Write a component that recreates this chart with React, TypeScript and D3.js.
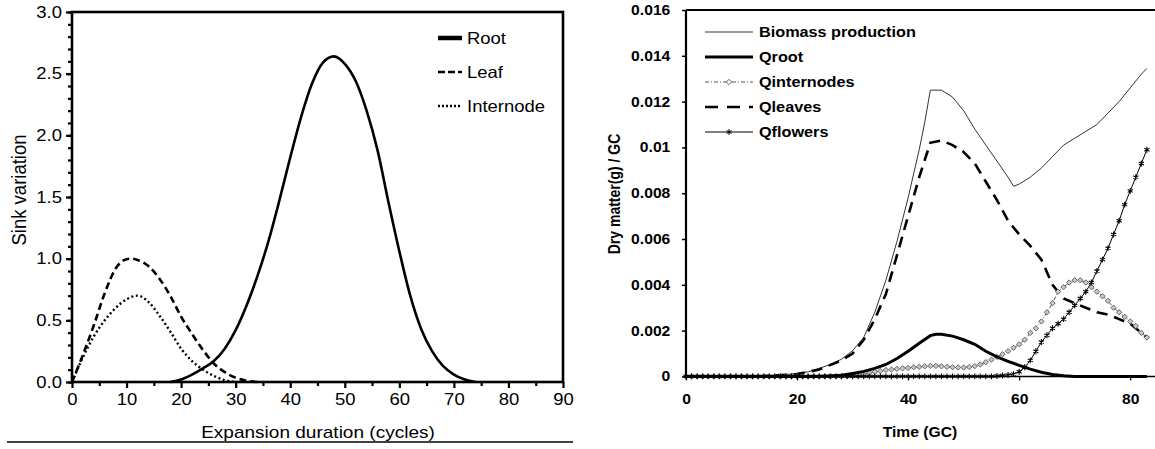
import React, { useEffect, useRef } from 'react';
import * as d3 from 'd3';

const WIDTH = 1155;
const HEIGHT = 449;
const SX = 1.12; // source picture is a bit stretched sideways
const FONT = 'Liberation Sans, Arial, Helvetica, sans-serif';

// ---- left panel: sink variation vs expansion duration ----
const rootX = [18, 20, 22, 24, 26, 28, 30, 32, 34, 36, 38, 40, 42, 44, 46, 48, 50, 52, 54, 56, 58, 60, 62, 64, 66, 68, 70, 72, 74];
const rootY = [0, 0.02, 0.06, 0.11, 0.17, 0.27, 0.42, 0.62, 0.86, 1.14, 1.47, 1.82, 2.15, 2.42, 2.59, 2.64, 2.58, 2.44, 2.2, 1.88, 1.46, 1.06, 0.7, 0.43, 0.25, 0.13, 0.06, 0.02, 0];
const leafX = [0, 2, 4, 6, 8, 10, 11, 12, 14, 16, 18, 20, 22, 24, 26, 28, 30, 32, 34];
const leafY = [0, 0.22, 0.46, 0.72, 0.92, 0.995, 1.0, 0.99, 0.94, 0.84, 0.7, 0.53, 0.39, 0.26, 0.15, 0.08, 0.035, 0.01, 0];
const internodeX = [0, 2, 4, 6, 8, 10, 12, 14, 16, 18, 20, 22, 24, 26, 28, 30];
const internodeY = [0, 0.2, 0.37, 0.5, 0.6, 0.67, 0.7, 0.65, 0.54, 0.41, 0.27, 0.17, 0.1, 0.05, 0.015, 0];

const leftYTicks = [0, 0.5, 1, 1.5, 2, 2.5, 3];
const leftXTicks = [0, 10, 20, 30, 40, 50, 60, 70, 80, 90];
const leftLegend = ['Root', 'Leaf', 'Internode'];

// ---- right panel: dry matter per GC ----
const bioT = [0, 10, 14, 18, 20, 22, 24, 26, 28, 30, 32, 34, 36, 38, 40, 42, 43, 44, 46, 48, 50, 52, 54, 56, 58, 59, 60, 62, 64, 66, 68, 70, 72, 74, 76, 78, 80, 82, 83];
const bioV = [0, 0, 0.00002, 0.00008, 0.00013, 0.0002, 0.00035, 0.00052, 0.00075, 0.00112, 0.0017, 0.0028, 0.0042, 0.0059, 0.0078, 0.0099, 0.0111, 0.0125, 0.0125, 0.0122, 0.0116, 0.0108, 0.0101, 0.0094, 0.0087, 0.0083, 0.0084, 0.0087, 0.0091, 0.0096, 0.0101, 0.0104, 0.0107, 0.011, 0.0115, 0.012, 0.0126, 0.0132, 0.01345];
const qRootT = [0, 24, 28, 30, 32, 34, 36, 38, 40, 42, 44, 45, 46, 48, 50, 52, 54, 56, 58, 60, 62, 64, 66, 68, 70, 83];
const qRootV = [0, 0, 0.00005, 0.00013, 0.00022, 0.00035, 0.00052, 0.00078, 0.0011, 0.00145, 0.00178, 0.00184, 0.00184, 0.00176, 0.0016, 0.0014, 0.0011, 0.00085, 0.00066, 0.00048, 0.00032, 0.00018, 0.00008, 0.00003, 0, 0];
const qLeavesT = [0, 14, 20, 24, 28, 30, 32, 34, 36, 38, 40, 42, 44, 46, 48, 50, 52, 54, 56, 58, 60, 62, 64, 66, 68, 70, 72, 74, 76, 78, 80, 82, 83];
const qLeavesV = [0, 0.00001, 0.0001, 0.0003, 0.0007, 0.001, 0.0016, 0.0025, 0.0036, 0.0053, 0.007, 0.0087, 0.0102, 0.0103, 0.0101, 0.0098, 0.0093, 0.0085, 0.0077, 0.0068, 0.0062, 0.0057, 0.0051, 0.004, 0.0034, 0.0032, 0.003, 0.0028, 0.0027, 0.0025, 0.0023, 0.0019, 0.0017];
// one value per GC, 0..83
const gcTime = d3.range(84);
const qInternodes = [
  0, 0, 0, 0, 0, 0, 0, 0, 0, 0, 0, 0, 0, 0, 0, 0, 0, 0, 0, 0, 0, 0, 0, 0, 0, 0, 0, 0,
  0.00001, 0.00002, 0.00004, 0.00007, 0.0001, 0.00015, 0.0002, 0.00024, 0.00028, 0.0003,
  0.00033, 0.00035, 0.00037, 0.0004, 0.00042, 0.00044, 0.00046, 0.00046, 0.00044, 0.00042,
  0.0004, 0.00039, 0.00039, 0.00041, 0.00045, 0.00052, 0.00062, 0.00073, 0.00085, 0.00097,
  0.0011, 0.00125, 0.0014, 0.0016, 0.0019, 0.0021, 0.0024, 0.0028, 0.0032, 0.0037,
  0.0039, 0.0041, 0.0042, 0.0042, 0.0041, 0.0039, 0.0037, 0.0035, 0.0033, 0.003,
  0.0028, 0.0026, 0.0024, 0.0022, 0.0019, 0.0017
];
const qFlowers = [
  0, 0, 0, 0, 0, 0, 0, 0, 0, 0, 0, 0, 0, 0, 0, 0, 0, 0, 0, 0, 0, 0, 0, 0, 0, 0, 0, 0,
  0, 0, 0, 0, 0, 0, 0, 0, 0, 0, 0, 0, 0, 0, 0, 0, 0, 0, 0, 0, 0, 0, 0, 0, 0, 0, 0, 0,
  0.00002, 0.00004, 0.00006, 0.0001, 0.0002, 0.0004, 0.0007, 0.0011, 0.0015, 0.0018,
  0.0021, 0.0023, 0.0025, 0.0028, 0.0031, 0.0034, 0.0037, 0.0041, 0.0046, 0.0051,
  0.0056, 0.0062, 0.0068, 0.0075, 0.0081, 0.0087, 0.0093, 0.0099
];

const rightYTicks = [0, 0.002, 0.004, 0.006, 0.008, 0.01, 0.012, 0.014, 0.016];
const rightXTicks = [0, 20, 40, 60, 80];
const rightLegend = ['Biomass production', 'Qroot', 'Qinternodes', 'Qleaves', 'Qflowers'];

type Sel = d3.Selection<SVGGElement, unknown, null, undefined>;

const addText = (g: Sel, x: number, y: number, txt: string, size: number,
  opts: { weight?: string; anchor?: string; rotate?: boolean } = {}) => {
  g.append('text')
    .attr('transform', `translate(${x},${y}) scale(${SX},1)${opts.rotate ? ' rotate(-90)' : ''}`)
    .attr('text-anchor', opts.anchor ?? 'start')
    .attr('font-family', FONT)
    .attr('font-size', size)
    .attr('font-weight', opts.weight ?? 'normal')
    .attr('fill', '#000')
    .text(txt);
};

const styleAxisText = (g: Sel, size: number, weight: string) => {
  g.selectAll('.tick text')
    .attr('font-family', FONT)
    .attr('font-size', size)
    .attr('font-weight', weight)
    .attr('fill', '#000')
    .attr('transform', `scale(${SX},1)`);
};

export default function App() {
  const svgRef = useRef<SVGSVGElement>(null);

  useEffect(() => {
    if (!svgRef.current) return;
    const svg = d3.select(svgRef.current);
    svg.selectAll('*').remove();

    // ================= LEFT =================
    const xL = d3.scaleLinear().domain([0, 90]).range([72, 563]);
    const yL = d3.scaleLinear().domain([0, 3]).range([382, 12]);
    const gL = svg.append('g') as Sel;

    const lineL = (xs: number[], ys: number[]) =>
      d3.line<number>().x((_, i) => xL(xs[i])).y((d) => yL(d)).curve(d3.curveMonotoneX)(ys);

    gL.append('path').attr('d', lineL(leafX, leafY)).attr('fill', 'none')
      .attr('stroke', '#000').attr('stroke-width', 2.6).attr('stroke-dasharray', '7,4');
    gL.append('path').attr('d', lineL(internodeX, internodeY)).attr('fill', 'none')
      .attr('stroke', '#000').attr('stroke-width', 2.4).attr('stroke-dasharray', '2,2.6');
    gL.append('path').attr('d', lineL(rootX, rootY)).attr('fill', 'none')
      .attr('stroke', '#000').attr('stroke-width', 2.6);

    // minor ticks
    gL.append('g').attr('transform', `translate(${xL(0)},0)`)
      .call(d3.axisLeft(yL).tickValues(d3.range(0, 3.001, 0.1)).tickSize(4).tickFormat(() => ''))
      .call((g) => g.select('.domain').remove())
      .selectAll('line').attr('stroke-width', 2.2);
    gL.append('g').attr('transform', `translate(0,${yL(0)})`)
      .call(d3.axisBottom(xL).tickValues(d3.range(5, 90, 10)).tickSize(4).tickFormat(() => ''))
      .call((g) => g.select('.domain').remove())
      .selectAll('line').attr('stroke-width', 2.2);

    const yAxL = gL.append('g').attr('transform', `translate(${xL(0)},0)`)
      .call(d3.axisLeft(yL).tickValues(leftYTicks).tickSize(6).tickSizeOuter(0).tickPadding(3)
        .tickFormat((d) => (+d).toFixed(1))) as Sel;
    yAxL.select('.domain').remove();
    yAxL.selectAll('line').attr('stroke-width', 2.2);
    styleAxisText(yAxL, 16.5, 'normal');

    const xAxL = gL.append('g').attr('transform', `translate(0,${yL(0)})`)
      .call(d3.axisBottom(xL).tickValues(leftXTicks).tickSize(6).tickSizeOuter(0).tickPadding(5)
        .tickFormat((d) => String(d))) as Sel;
    xAxL.select('.domain').remove();
    xAxL.selectAll('line').attr('stroke-width', 2.2);
    styleAxisText(xAxL, 16.5, 'normal');

    gL.append('rect')
      .attr('x', xL(0)).attr('y', yL(3))
      .attr('width', xL(90) - xL(0)).attr('height', yL(0) - yL(3))
      .attr('fill', 'none').attr('stroke', '#000').attr('stroke-width', 2.6);

    addText(gL, 26, 190, 'Sink variation', 18.5, { anchor: 'middle', rotate: true });
    addText(gL, 318, 438, 'Expansion duration (cycles)', 17, { anchor: 'middle' });
    gL.append('line').attr('x1', 7).attr('x2', 573).attr('y1', 442).attr('y2', 442)
      .attr('stroke', '#000').attr('stroke-width', 1.5);

    // legend
    const legDash = ['', '7,3', '2,2'];
    const legW = [4.5, 2.6, 2.4];
    leftLegend.forEach((name, i) => {
      const y = 38 + i * 34;
      gL.append('line').attr('x1', 438).attr('x2', 462).attr('y1', y).attr('y2', y)
        .attr('stroke', '#000').attr('stroke-width', legW[i])
        .attr('stroke-dasharray', legDash[i] || null);
      addText(gL, 467, y + 6, name, 16.5);
    });

    // ================= RIGHT =================
    const xR = d3.scaleLinear().domain([0, 85]).range([686, 1158]);
    const yR = d3.scaleLinear().domain([0, 0.016]).range([376.4, 10]);
    const gR = svg.append('g') as Sel;

    const lineR = (ts: number[], vs: number[]) =>
      d3.line<number>().x((_, i) => xR(ts[i])).y((d) => yR(d))(vs);

    gR.append('path').attr('d', lineR(bioT, bioV)).attr('fill', 'none')
      .attr('stroke', '#333').attr('stroke-width', 1);
    gR.append('path').attr('d', lineR(qLeavesT, qLeavesV)).attr('fill', 'none')
      .attr('stroke', '#000').attr('stroke-width', 2.6).attr('stroke-dasharray', '11,7');
    gR.append('path').attr('d', lineR(gcTime, qInternodes)).attr('fill', 'none')
      .attr('stroke', '#555').attr('stroke-width', 1).attr('stroke-dasharray', '4,2,1,2');
    gR.append('path').attr('d', lineR(gcTime, qFlowers)).attr('fill', 'none')
      .attr('stroke', '#000').attr('stroke-width', 1);

    const diamond = d3.symbol(d3.symbolDiamond2, 18)();
    const star = d3.symbol(d3.symbolAsterisk, 24)();

    gR.append('g').selectAll('path').data(qInternodes).join('path')
      .attr('transform', (d, i) => `translate(${xR(gcTime[i])},${yR(d)})`)
      .attr('d', diamond).attr('fill', '#c8c8c8').attr('stroke', '#666').attr('stroke-width', 1);
    gR.append('g').selectAll('path').data(qFlowers).join('path')
      .attr('transform', (d, i) => `translate(${xR(gcTime[i])},${yR(d)})`)
      .attr('d', star).attr('fill', 'none').attr('stroke', '#000').attr('stroke-width', 1.1);

    gR.append('path').attr('d', lineR(qRootT, qRootV)).attr('fill', 'none')
      .attr('stroke', '#000').attr('stroke-width', 3);

    const yAxR = gR.append('g').attr('transform', `translate(${xR(0)},0)`)
      .call(d3.axisLeft(yR).tickValues(rightYTicks).tickSize(4).tickSizeOuter(0).tickPadding(10)
        .tickFormat((d) => String(+d))) as Sel;
    yAxR.select('.domain').remove();
    yAxR.selectAll('line').attr('stroke-width', 1.5);
    styleAxisText(yAxR, 14, 'bold');

    const xAxR = gR.append('g').attr('transform', `translate(0,${yR(0)})`)
      .call(d3.axisBottom(xR).tickValues(rightXTicks).tickSize(4).tickSizeOuter(0).tickPadding(14)
        .tickFormat((d) => String(d))) as Sel;
    xAxR.select('.domain').remove();
    xAxR.selectAll('line').attr('stroke-width', 1.2);
    styleAxisText(xAxR, 14, 'bold');

    gR.append('line').attr('x1', xR(0)).attr('x2', xR(85)).attr('y1', yR(0)).attr('y2', yR(0))
      .attr('stroke', '#000').attr('stroke-width', 1.5);
    gR.append('line').attr('x1', xR(0)).attr('x2', xR(0)).attr('y1', yR(0.016)).attr('y2', yR(0))
      .attr('stroke', '#000').attr('stroke-width', 2.2);
    gR.append('line').attr('x1', xR(0)).attr('x2', xR(85)).attr('y1', yR(0.016)).attr('y2', yR(0.016))
      .attr('stroke', '#000').attr('stroke-width', 2);

    addText(gR, 620, 194, 'Dry matter(g) / GC', 14, { anchor: 'middle', rotate: true, weight: 'bold' });
    addText(gR, 920, 437, 'Time (GC)', 14, { anchor: 'middle', weight: 'bold' });

    // legend
    rightLegend.forEach((name, i) => {
      const y = 32 + i * 25;
      const ln = gR.append('line').attr('x1', 705).attr('x2', 753).attr('y1', y).attr('y2', y)
        .attr('fill', 'none');
      if (i === 0) ln.attr('stroke', '#333').attr('stroke-width', 1);
      if (i === 1) ln.attr('stroke', '#000').attr('stroke-width', 3);
      if (i === 2) ln.attr('stroke', '#555').attr('stroke-width', 1).attr('stroke-dasharray', '4,2,1,2');
      if (i === 3) ln.attr('stroke', '#000').attr('stroke-width', 2.6).attr('stroke-dasharray', '13,9');
      if (i === 4) ln.attr('stroke', '#000').attr('stroke-width', 1);
      if (i === 2) {
        gR.append('path').attr('transform', `translate(729,${y})`).attr('d', diamond)
          .attr('fill', '#fff').attr('stroke', '#666');
      }
      if (i === 4) {
        gR.append('path').attr('transform', `translate(729,${y})`).attr('d', star)
          .attr('fill', 'none').attr('stroke', '#000');
      }
      addText(gR, 759, y + 5, name, 14.5, { weight: 'bold' });
    });
  }, []);

  return (
    <div style={{ position: 'absolute', left: 0, top: 0 }}>
      <svg ref={svgRef} width={WIDTH} height={HEIGHT} style={{ display: 'block', background: '#fff' }} />
    </div>
  );
}
